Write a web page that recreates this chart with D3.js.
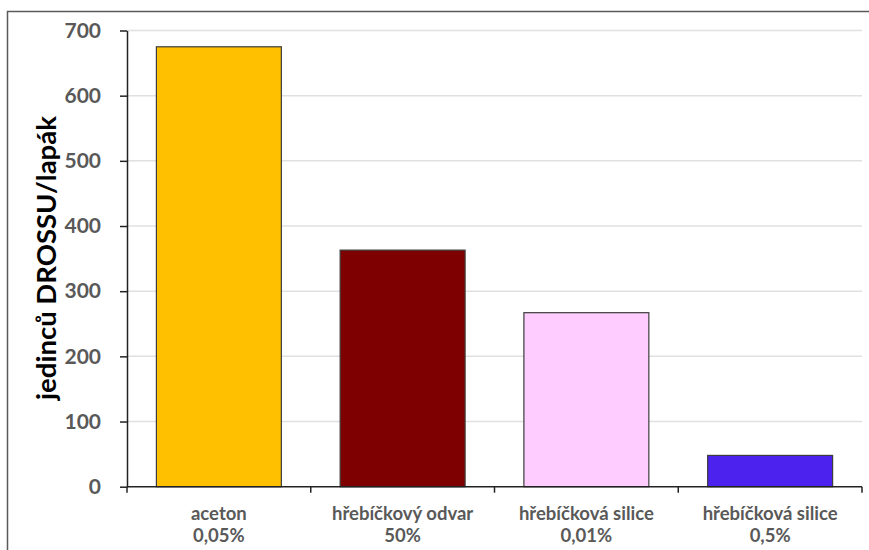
<!DOCTYPE html>
<html>
<head>
<meta charset="utf-8">
<script src="https://cdn.jsdelivr.net/npm/d3@7"></script>
<style>
  html, body { margin: 0; padding: 0; background: #fff; }
  svg { display: block; }
</style>
</head>
<body>
<div id="chart"></div>
<script>
// Categories (two-line labels) and counts per trap
const categories = ["aceton", "hřebíčkový odvar", "hřebíčková silice", "hřebíčková silice"];
const concentrations = ["0,05%", "50%", "0,01%", "0,5%"];
const values = [675, 363, 267, 48];
const barColors = ["#FFC000", "#7F0000", "#FFCCFF", "#4B22EE"];
const yTicks = [0, 100, 200, 300, 400, 500, 600, 700];
const yTitle = "jedinců DROSSU/lapák";

const W = 869, H = 550;
const margin = { left: 127, right: 7, top: 30.5, bottom: 63.3 };

const svg = d3.select("#chart").append("svg")
  .attr("width", W).attr("height", H);

// outer frame
svg.append("path")
  .attr("d", `M7.5,${H} V11.5 H${W}`)
  .attr("fill", "none").attr("stroke", "#5a5a5a").attr("stroke-width", 1.5);

const x = d3.scaleBand()
  .domain(d3.range(categories.length))
  .range([margin.left, W - margin.right])
  .paddingInner(0.32).paddingOuter(0.16);

const y = d3.scaleLinear()
  .domain([0, 700])
  .range([H - margin.bottom, margin.top]);

// gridlines
svg.append("g").selectAll("line")
  .data(yTicks.filter(d => d > 0))
  .join("line")
  .attr("x1", margin.left).attr("x2", W - margin.right)
  .attr("y1", d => y(d)).attr("y2", d => y(d))
  .attr("stroke", "#e0e0e0").attr("stroke-width", 1.5);

// bars
svg.append("g").selectAll("rect")
  .data(values)
  .join("rect")
  .attr("x", (d, i) => x(i))
  .attr("width", x.bandwidth())
  .attr("y", d => y(d))
  .attr("height", d => y(0) - y(d))
  .attr("fill", (d, i) => barColors[i])
  .attr("stroke", "#3c3c3c").attr("stroke-width", 1.2);

// y axis
const yAxis = svg.append("g")
  .attr("transform", `translate(${margin.left},0)`)
  .call(d3.axisLeft(y).tickValues(yTicks).tickSize(7).tickPadding(19).tickSizeOuter(0));
yAxis.select(".domain").attr("stroke", "#222").attr("stroke-width", 1.5);
yAxis.selectAll(".tick line").attr("stroke", "#222").attr("stroke-width", 1.5);
yAxis.selectAll(".tick text")
  .attr("fill", "#595959")
  .style("font-family", "Lato, 'Open Sans', sans-serif")
  .style("font-size", "21px")
  .style("font-weight", "bold");

// x axis: baseline with ticks at category boundaries
const x0 = margin.left, x1 = W - margin.right;
svg.append("line")
  .attr("x1", x0).attr("x2", x1)
  .attr("y1", y(0)).attr("y2", y(0))
  .attr("stroke", "#222").attr("stroke-width", 1.5);
svg.append("g").selectAll("line")
  .data(d3.range(categories.length + 1))
  .join("line")
  .attr("x1", i => x0 + i * (x1 - x0) / categories.length)
  .attr("x2", i => x0 + i * (x1 - x0) / categories.length)
  .attr("y1", y(0)).attr("y2", y(0) + 6)
  .attr("stroke", "#222").attr("stroke-width", 1.5);

// category labels
const labels = svg.append("g").selectAll("text")
  .data(categories)
  .join("text")
  .attr("text-anchor", "middle")
  .attr("fill", "#595959")
  .style("font-family", "Lato, 'Open Sans', sans-serif")
  .style("font-size", "18.5px")
  .style("font-weight", "bold");
labels.append("tspan")
  .attr("x", (d, i) => x(i) + x.bandwidth() / 2)
  .attr("y", 520)
  .text(d => d);
labels.append("tspan")
  .attr("x", (d, i) => x(i) + x.bandwidth() / 2)
  .attr("y", 542)
  .text((d, i) => concentrations[i]);

// y axis title
svg.append("text")
  .attr("transform", "translate(56,258) rotate(-90)")
  .attr("text-anchor", "middle")
  .attr("fill", "#000")
  .style("font-family", "Lato, 'Open Sans', sans-serif")
  .style("font-size", "27.5px")
  .style("font-weight", "bold")
  .text(yTitle);
</script>
</body>
</html>
